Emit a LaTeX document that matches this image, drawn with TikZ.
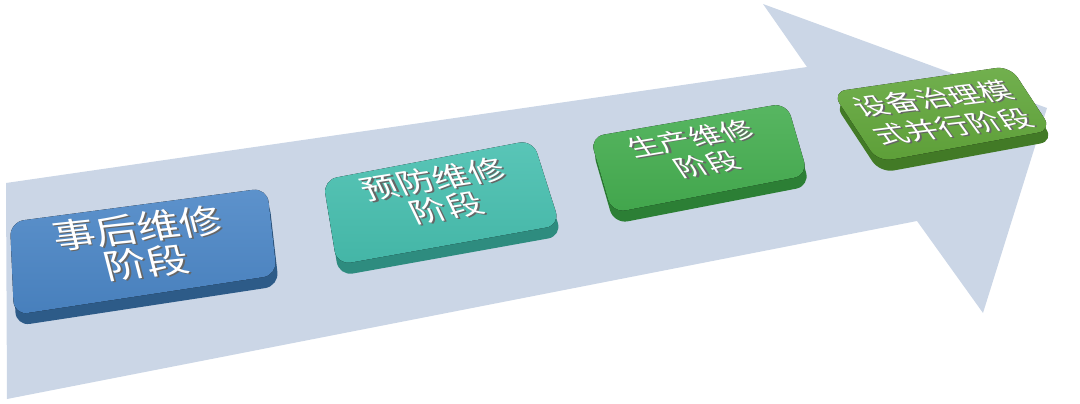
\documentclass[tikz,border=0pt]{standalone}
\usepackage{fontspec}
\newfontfamily\cjk{Noto Sans CJK SC}
\usepackage{tikz}
\usetikzlibrary{positioning}
\definecolor{arrowbg}{HTML}{CBD6E6}
\definecolor{blueface}{HTML}{4B86C6}
\definecolor{blueside}{HTML}{2D5B88}
\definecolor{tealface}{HTML}{47BFAF}
\definecolor{tealside}{HTML}{2E8C7F}
\definecolor{greenface}{HTML}{45AE50}
\definecolor{greenside}{HTML}{2C7F35}
\definecolor{oliveface}{HTML}{62A73B}
\definecolor{oliveside}{HTML}{427A26}
\newcommand{\glow}[1]{\leavevmode\rlap{\textcolor{black!60}{\kern1.2pt\lower1.2pt\hbox{#1}}}\hbox{#1}}
\tikzset{
  stagetext/.style={text=white, align=center, inner sep=0pt},
}

\begin{document}
\begin{tikzpicture}[x=1pt,y=-1pt]
\useasboundingbox (0,0) rectangle (1080,404);
% Big arrow
\fill[arrowbg] (6,183) -- (807,67) -- (763,4) -- (1047,108) -- (983,313) -- (917,221) -- (7,399) -- cycle;
% Stage boxes (side first, then face)
\foreach \tl/\tr/\br/\bl/\fc/\sc in {
    {(10,222)}/{(267,188)}/{(277,275)}/{(14,315)}/blueface/blueside,
    {(323,180)}/{(533,140)}/{(560,225)}/{(337,265)}/tealface/tealside,
    {(590,137)}/{(787,103)}/{(808,175)}/{(612,213)}/greenface/greenside,
    {(832,92)}/{(1010,66)}/{(1052,130)}/{(878,162)}/oliveface/oliveside}{
    \fill[\sc, rounded corners=14pt, xshift=2pt, yshift=-11pt] \tl -- \tr -- \br -- \bl -- cycle;
    \fill[rounded corners=14pt, top color=\fc!90!white, bottom color=\fc!95!black] \tl -- \tr -- \br -- \bl -- cycle;
}
% Stage labels
\node[stagetext, font={\cjk\fontsize{34}{35}\selectfont}, rotate=6, xslant=-0.15, xscale=1.25] (s1) at (142,246) {\glow{事后维修}\\\glow{阶段}};
\node[stagetext, font={\cjk\fontsize{28}{30}\selectfont}, rotate=9, xslant=-0.3, xscale=1.28] (s2) at (440,194) {\glow{预防维修}\\\glow{阶段}};
\node[stagetext, font={\cjk\fontsize{24}{28}\selectfont}, rotate=9.5, xslant=-0.45, xscale=1.3] (s3) at (699,152) {\glow{生产维修}\\\glow{阶段}};
\node[stagetext, font={\cjk\fontsize{24}{30}\selectfont}, rotate=7, xslant=-0.55, xscale=1.3] (s4) at (943,113) {\glow{设备治理模}\\\glow{式并行阶段}};
\end{tikzpicture}
\end{document}
